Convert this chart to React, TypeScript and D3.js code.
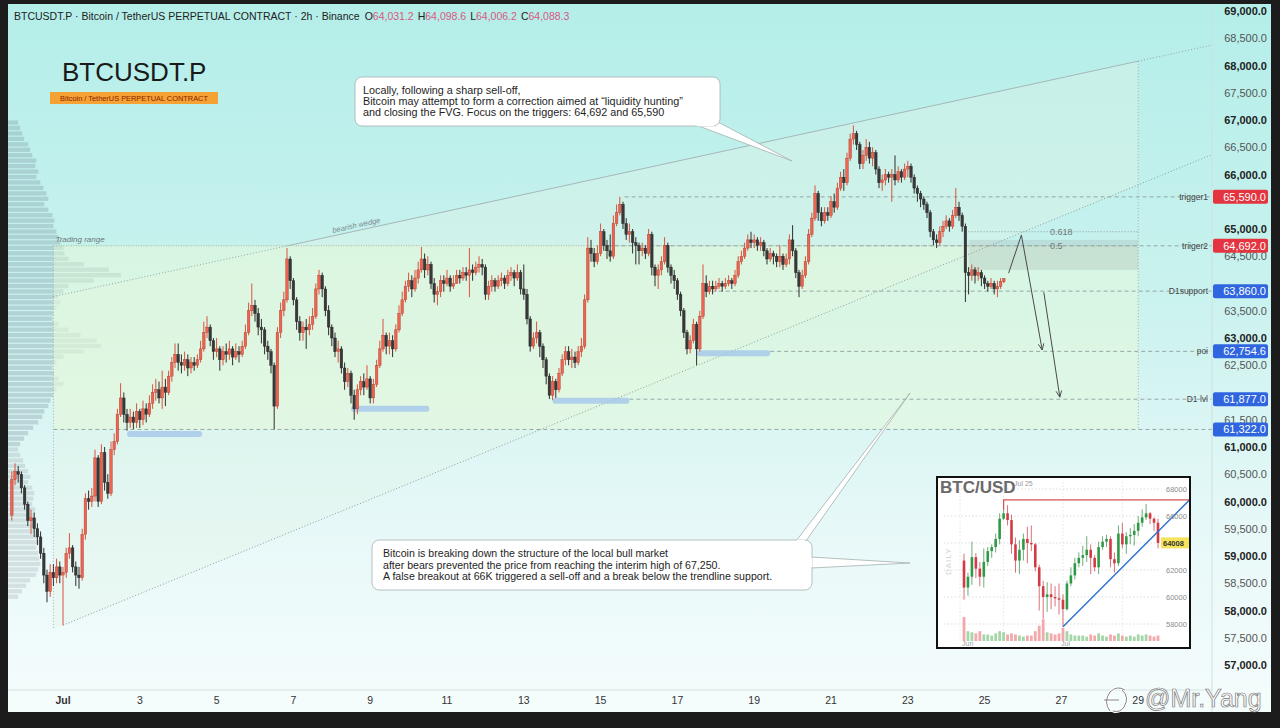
import * as d3 from 'd3'

const at = (day: number, hour = 0) => new Date(2024, 6, day, hour)

// 2h candles, Jun 29 16:00 -> Jul 25 12:00 (open = previous close)
const candleStart = new Date(2024, 5, 29, 16)
const firstOpen = 59750
const closes = [
  60400, 60550, 60500, 60250,
  59950, 59650, 59700, 59500, 59350, 59050, 58650, 58350, 58700, 58600, 58800, 58650,
  58700, 59050, 59150, 58800, 58650, 58600, 59400, 60050, 60000, 60100, 60800, 60000,
  60900, 60350, 60150, 60950, 61100, 61600, 61900, 61600, 61450, 61550, 61450, 61650,
  61500, 61700, 61600, 61800, 62000, 62050, 61900, 62100, 62000, 62300, 62550, 62700,
  62550, 62500, 62600, 62450, 62550, 62500, 62600, 62800, 63100, 63200, 62950, 62750,
  62800, 62600, 62750, 62700, 62800, 62650, 62750, 62700, 62850, 63100, 63500, 63600,
  63450, 63200, 63150, 62850, 62750, 62500, 61750, 63100, 63500, 63700, 64450, 64050,
  63700, 63300, 63100, 63200, 63150, 63250, 63400, 63900, 64150, 63900, 63500, 63200,
  63000, 62750, 62800, 62450, 62200, 62350, 61950, 61700, 62050, 62200, 62100, 62250,
  61900, 62150, 62500, 62800, 63050, 62850, 62950, 62800, 63150, 63450, 63700, 63950,
  64050, 63900, 64100, 64250, 64450, 64250, 64350, 64000, 63800, 63850, 64050, 64000,
  64100, 63950, 64000, 64150, 64100, 64200, 64150, 64250, 64200, 64300, 64350, 64300,
  63800, 63950, 64050, 63950, 64050, 64100, 64000, 64150, 64200, 64100, 64200, 63900,
  63800, 63350, 62850, 63000, 63100, 62850, 62600, 62300, 61950, 62200, 62050, 62350,
  62600, 62750, 62600, 62650, 62550, 62750, 62850, 63700, 64650, 64550, 64400, 64550,
  64950, 64700, 64600, 64500, 65100, 65300, 65450, 65100, 64900, 64950, 64750, 64700,
  64600, 64650, 64550, 64900, 64300, 64150, 64250, 64400, 64700, 64300, 64150, 64050,
  63800, 63500, 63100, 62800, 62950, 63250, 62800, 63400, 64000, 63850, 63950, 63900,
  63950, 64000, 63950, 64000, 64050, 64000, 64150, 64400, 64500, 64650, 64800, 64750,
  64800, 64700, 64750, 64600, 64450, 64550, 64500, 64400, 64500, 64350, 64450, 64800,
  64600, 64200, 63950, 64150, 64400, 64900, 65200, 65650, 65300, 65150, 65300, 65250,
  65500, 65400, 65750, 65950, 65850, 66300, 66650, 66750, 66550, 66200, 66350, 66500,
  66300, 66400, 66100, 65850, 65900, 66000, 65950, 66000, 65900, 66050, 65950, 66100,
  66150, 65950, 65750, 65650, 65550, 65450, 65300, 64950, 64800, 64750, 64950, 65050,
  65150, 65050, 65250, 65400, 65250, 65050, 64200, 64150, 64250, 64150, 64200, 64100,
  64000, 63950, 64000, 63900, 63950, 64031.2, 64088.3,
]
const highs = [
  60550, 60700, 60650, 60550,
  60300, 60000, 59850, 59800, 59600, 59450, 59150, 58750, 58850, 58850, 58950, 58900,
  58800, 59150, 59420, 59200, 58900, 58800, 59500, 60150, 60200, 60250, 60950, 60850,
  61050, 61000, 60500, 61100, 61250, 61700, 62170, 62000, 61700, 61700, 61650, 61800,
  61700, 61850, 61800, 61950, 62150, 62250, 62200, 62400, 62250, 62400, 62650, 62900,
  62900, 62700, 62750, 62700, 62650, 62650, 62700, 62950, 63300, 63400, 63250, 63000,
  63000, 62850, 62850, 62900, 62950, 62850, 62900, 62850, 62950, 63250, 63650, 64000,
  63700, 63550, 63350, 63200, 62950, 62800, 62550, 63200, 63650, 63850, 64650, 64500,
  64100, 63750, 63400, 63300, 63350, 63400, 63550, 64000, 64250, 64200, 63950, 63600,
  63250, 63100, 62950, 62850, 62550, 62450, 62400, 62050, 62150, 62300, 62350, 62500,
  62300, 62250, 62600, 62950, 63350, 63100, 63100, 63050, 63250, 63600, 63850, 64050,
  64200, 64150, 64250, 64400, 64670, 64550, 64500, 64400, 64100, 63950, 64150, 64150,
  64250, 64150, 64150, 64250, 64250, 64300, 64300, 64650, 64350, 64400, 64500, 64450,
  64350, 64050, 64150, 64100, 64150, 64200, 64150, 64250, 64300, 64250, 64350, 64250,
  64350, 63900, 63400, 63100, 63300, 63150, 62900, 62650, 62350, 62300, 62250, 62450,
  62700, 62850, 62850, 62800, 62750, 62850, 63000, 63800, 64850, 64800, 64650, 64700,
  65100, 65000, 64800, 64900, 65250, 65450, 65590, 65500, 65200, 65100, 65000, 64850,
  64750, 64750, 64700, 65000, 64950, 64350, 64350, 64500, 64850, 64750, 64350, 64250,
  64100, 63850, 63550, 63150, 63050, 63350, 63300, 63500, 64350, 64150, 64050, 64050,
  64050, 64100, 64050, 64100, 64150, 64100, 64250, 64500, 64600, 64750, 64900, 64950,
  64900, 64850, 64850, 64800, 64650, 64650, 64600, 64550, 64700, 64550, 64550, 64900,
  65070, 64650, 64250, 64250, 64500, 65000, 65300, 65800, 65700, 65400, 65400, 65400,
  65600, 65650, 65850, 66050, 66100, 66400, 66750, 66900, 66800, 66600, 66450, 66650,
  66600, 66500, 66450, 66150, 66000, 66100, 66050, 66100, 66350, 66150, 66100, 66200,
  66250, 66200, 66000, 65800, 65700, 65600, 65500, 65350, 65000, 64900, 65050, 65150,
  65250, 65200, 65350, 65750, 65500, 65300, 65100, 64300, 64350, 64300, 64300, 64250,
  64150, 64050, 64100, 64050, 64050, 64100, 64098.6,
]
const lows = [
  59650, 60300, 60350, 60150,
  59850, 59550, 59400, 59350, 59200, 58950, 58500, 58150, 58250, 58450, 58500, 58500,
  57730, 58600, 58950, 58700, 58450, 58400, 58550, 59300, 59850, 59900, 60000, 59900,
  59950, 60200, 60050, 60100, 60850, 61050, 61550, 61450, 61300, 61350, 61330, 61350,
  61350, 61400, 61450, 61550, 61700, 61850, 61800, 61700, 61750, 61950, 62200, 62450,
  62400, 62350, 62400, 62300, 62350, 62400, 62450, 62550, 62750, 63000, 62850, 62600,
  62650, 62400, 62500, 62550, 62600, 62500, 62600, 62550, 62650, 62800, 63050, 63400,
  63300, 63050, 62900, 62700, 62600, 62350, 61320, 61700, 63000, 63400, 63650, 63900,
  63600, 63150, 62950, 62950, 62800, 63050, 63150, 63350, 63800, 63750, 63400, 63050,
  62850, 62650, 62550, 62350, 62050, 62100, 61800, 61500, 61600, 61950, 61950, 62050,
  61800, 61800, 62100, 62450, 62750, 62700, 62700, 62650, 62750, 63100, 63400, 63650,
  63850, 63750, 63850, 64000, 64200, 64100, 64150, 63900, 63650, 63600, 63750, 63850,
  63950, 63850, 63900, 64000, 64000, 64050, 64050, 63750, 64050, 64150, 64200, 64150,
  63700, 63700, 63850, 63850, 63900, 63950, 63900, 63950, 64050, 63950, 64050, 63800,
  63700, 63250, 62750, 62800, 62900, 62650, 62450, 62150, 61880, 61860, 61900, 62000,
  62300, 62500, 62500, 62450, 62450, 62500, 62650, 62800, 63650, 64400, 64300, 64350,
  64500, 64600, 64450, 64400, 64450, 65050, 65250, 65000, 64800, 64750, 64550, 64350,
  64350, 64500, 64450, 64500, 64150, 63950, 63900, 64150, 64350, 64200, 64000, 63900,
  63700, 63400, 63000, 62700, 62720, 62900, 62500, 62750, 63350, 63750, 63800, 63800,
  63850, 63900, 63850, 63900, 63950, 63900, 63950, 64100, 64350, 64450, 64600, 64650,
  64650, 64600, 64600, 64500, 64350, 64400, 64350, 64300, 64300, 64250, 64300, 64350,
  64500, 64100, 63750, 63900, 64100, 64350, 64850, 65150, 65150, 65050, 65100, 65150,
  65200, 65300, 65350, 65700, 65700, 65800, 66250, 66550, 66450, 66100, 66100, 66250,
  66200, 66150, 66000, 65750, 65700, 65800, 65850, 65500, 65800, 65850, 65850, 65900,
  65950, 65850, 65650, 65500, 65400, 65350, 65200, 64850, 64700, 64650, 64700, 64850,
  65000, 64950, 65000, 65200, 65150, 64950, 63660, 63800, 64050, 64000, 64050, 63950,
  63900, 63850, 63900, 63800, 63750, 63900, 64006.2,
]

// visible-range volume profile, 100 USD rows from 67,000 down
const profileTop = 67000
const profileStep = 100
const profileVolume = [
  10, 12, 14, 16, 20, 22, 24, 28, 27, 30, 28, 32, 35, 38, 40, 36, 40, 44, 46, 45,
  48, 50, 52, 55, 56, 60, 75, 100, 112, 85, 60, 55, 50, 52, 48, 45, 44, 50, 60, 72,
  88, 92, 75, 55, 48, 44, 46, 50, 55, 48, 45, 42, 40, 36, 34, 30, 25, 20, 16, 12,
  10, 12, 15, 17, 20, 22, 20, 24, 26, 25, 24, 27, 26, 28, 25, 27, 29, 31, 28, 30,
  31, 32, 30, 28, 22, 18, 14, 10,
]

const levelNames = ['trigger1', 'triiger2', 'D1support', 'poi', 'D1 lvl', '']
const levelPrices = [65590, 64692, 63860, 62754.6, 61877, 61322]
const levelStarts = [at(15, 15), at(15, 0), at(17, 17), at(19, 10), at(15, 18), new Date(2024, 5, 30, 18)]
const levelColors = ['#e3343f', '#e3343f', '#2f66e0', '#2f66e0', '#2f66e0', '#2f66e0']

const liqStarts = [at(2, 16), at(8, 12), at(13, 18), at(17, 12)]
const liqEnds = [at(4, 15), at(10, 13), at(15, 18), at(19, 10)]
const liqPrices = [61240, 61700, 61850, 62720]

const rangeStart = new Date(2024, 5, 30, 18)
const rangeEnd = at(29)
const wedgeUpper: [Date, number][] = [[at(6, 20), 64690], [at(29), 68080]]
const wedgeLower: [Date, number][] = [[at(1), 57730], [at(29), 65810]]

const fibStart = at(24, 14)
const fibLevels = [0.618, 0.5]
const fibPrices = [64950, 64692]
const fvgBounds = [64250, 64800]

const arrowA: [Date, number][] = [[at(25, 15), 64190], [at(25, 23), 64890], [at(26, 12), 62780]]
const arrowB: [Date, number][] = [[at(26, 13), 63840], [at(26, 23), 61915]]

const dayTicks = [1, 3, 5, 7, 9, 11, 13, 15, 17, 19, 21, 23, 25, 27, 29]

const topNote = [
  'Locally, following a sharp sell-off,',
  'Bitcoin may attempt to form a correction aimed at “liquidity hunting”',
  'and closing the FVG. Focus on the triggers: 64,692 and 65,590',
]
const bottomNote = [
  'Bitcoin is breaking down the structure of the local bull market',
  'after bears prevented the price from reaching the interim high of 67,250.',
  'A false breakout at 66K triggered a sell-off and a break below the trendline support.',
]

// inset: daily BTC/USD
const miniFirstOpen = 62700
const miniClose = [
  60700, 61500, 62950, 62100, 61500, 62600, 63400, 63700, 64300, 65800,
  66200, 65700, 63900, 62700, 63500, 64300, 64000, 63900, 62200, 60800,
  60000, 60200, 60000, 59900, 59800, 59100, 61000, 61600, 62500, 62900,
  63100, 63500, 62900, 62200, 63700, 64100, 64300, 62800, 62500, 64700,
  63900, 64500, 64600, 64900, 65500, 65900, 66200, 65800, 65500, 64008,
]
const miniHigh = [
  63200, 61800, 64100, 63250, 62600, 63600, 63700, 63900, 64700, 66200,
  67200, 66800, 66100, 64400, 64200, 64700, 65200, 65300, 64000, 62400,
  61200, 61100, 61000, 60800, 61000, 60200, 61200, 62200, 62900, 63300,
  63800, 64500, 63900, 63100, 64100, 64500, 64600, 64500, 63300, 65300,
  65500, 64800, 65100, 65400, 66000, 66500, 66900, 66300, 65900, 65800,
]
const miniLow = [
  59800, 60100, 60900, 61400, 60800, 60700, 62300, 62900, 63300, 63900,
  65700, 65300, 63200, 61800, 61700, 62700, 62500, 63400, 61900, 59000,
  58400, 58900, 59100, 59300, 58700, 57800, 59000, 60800, 61300, 62200,
  62300, 62600, 61700, 61900, 61700, 63500, 63700, 62200, 61800, 62300,
  63600, 63200, 63900, 63800, 64500, 65200, 65700, 65400, 64900, 63600,
]
const miniVolume = [
  22, 9, 8, 7, 9, 6, 6, 5, 7, 9, 8, 6, 7, 6, 5, 4, 5, 5, 9, 14,
  20, 8, 7, 6, 7, 12, 9, 6, 5, 5, 5, 4, 6, 5, 7, 5, 4, 6, 5, 7,
  5, 4, 5, 4, 6, 5, 6, 5, 4, 5,
]
const miniPriceTicks = [68000, 66000, 62000, 60000, 58000]
const miniGridTicks = [68000, 66000, 64000, 62000, 60000, 58000]
const miniResistance = 67200
const miniTrend: [number, number][] = [[25, 57800], [57, 67200]]

const font = "'Liberation Sans', Arial, sans-serif"
const plotLeft = 8
const plotRight = 1212
const plotBottom = 690

const App = () => {
  const x = d3.scaleTime().domain([at(1), at(29)]).range([63, 1138.2])
  const y = d3.scaleLinear().domain([57000, 69000]).range([665, 11])
  const fmt = d3.format(',.1f')

  const candles = closes.map((c, i) => {
    const o = i === 0 ? firstOpen : closes[i - 1]
    return {
      t: d3.timeHour.offset(candleStart, 2 * i),
      o,
      c,
      h: Math.max(highs[i], o, c),
      l: Math.min(lows[i], o, c),
    }
  })
  const last = candles[candles.length - 1]

  const profX = d3.scaleLinear().domain([0, d3.max(profileVolume) ?? 1]).range([0, 113])

  const px = (p: [Date, number]) => [x(p[0]), y(p[1])] as [number, number]
  const lineFn = (pts: [Date, number][]) => {
    const [a, b] = pts.map(px)
    const m = (b[1] - a[1]) / (b[0] - a[0])
    return (xp: number) => a[1] + m * (xp - a[0])
  }
  const upper = lineFn(wedgeUpper)
  const lower = lineFn(wedgeLower)
  const xL = x(rangeStart)
  const xR = x(rangeEnd)
  const [u1, u2] = wedgeUpper.map(px)
  const l1 = px(wedgeLower[0])

  const path = d3.line<[Date, number]>().x((d) => x(d[0])).y((d) => y(d[1]))

  const bw = 2.6

  // price-axis labels mostly hidden behind a level tag are left out
  const axisPrices = d3
    .range(57000, 69001, 500)
    .filter((p) => levelPrices.every((lp) => Math.abs(y(p) - y(lp)) >= 9))

  // inset scales
  const inset = { x: 937, y: 477, w: 253, h: 171 }
  const mx = d3.scaleLinear().domain([0, 49]).range([964, 1158])
  const my = d3.scaleLinear().domain([58000, 68000]).range([624, 489])
  const mv = d3.scaleLinear().domain([0, d3.max(miniVolume) ?? 1]).range([0, 24])
  const mini = miniClose.map((c, i) => {
    const o = i === 0 ? miniFirstOpen : miniClose[i - 1]
    return { o, c, h: Math.max(miniHigh[i], o, c), l: Math.min(miniLow[i], o, c), v: miniVolume[i] }
  })

  const labelX = 1050
  const markPath = 'M1110,711 q-7,-9 0,-19 q7,-7 15,-2 M1104,700 h15 M1122,690 q8,7 2,17 q-4,6 -11,4'

  return (
    <svg
      width={1280}
      height={728}
      style={{ position: 'absolute', left: 0, top: 0 }}
      fontFamily={font}
    >
      <defs>
        <linearGradient id="bg" x1="0" y1="0" x2="0" y2="1">
          <stop offset="0%" stopColor="#b4eee9" />
          <stop offset="40%" stopColor="#c9f2ee" />
          <stop offset="78%" stopColor="#eaf9f9" />
          <stop offset="100%" stopColor="#f5fcfc" />
        </linearGradient>
        <clipPath id="plot">
          <rect x={plotLeft} y={4} width={plotRight - plotLeft} height={plotBottom - 4} />
        </clipPath>
        <clipPath id="insetClip">
          <rect x={inset.x} y={inset.y} width={inset.w} height={inset.h} />
        </clipPath>
        <marker id="arr" viewBox="0 0 10 10" refX="9" refY="5" markerWidth="7" markerHeight="7" orient="auto">
          <path d="M0,1 L9,5 L0,9" fill="none" stroke="#4a4a4a" strokeWidth={1.3} />
        </marker>
      </defs>

      <rect width={1280} height={728} fill="#1c1c1c" />
      <rect x={8} y={4} width={1263} height={708} fill="url(#bg)" />

      <g clipPath="url(#plot)">
        {/* volume profile */}
        {profileVolume.map((v, i) => {
          const top = profileTop - i * profileStep
          const bot = top - profileStep
          const y0 = y(top)
          const h = y(bot) - y0
          return (
            <rect
              key={`vp${i}`}
              x={plotLeft}
              y={y0 + 0.4}
              width={profX(v)}
              height={h - 1.2}
              fill={bot >= 61000 ? 'rgba(130,155,165,0.36)' : 'rgba(160,166,172,0.3)'}
            />
          )
        })}

        {/* wedge fill */}
        <polygon
          points={[
            [xL, upper(xL)],
            [xR, upper(xR)],
            [xR, lower(xR)],
            [xL, lower(xL)],
          ]
            .map((p) => p.join(','))
            .join(' ')}
          fill="rgba(225,244,228,0.35)"
        />
        {/* trading range box */}
        <rect
          x={xL}
          y={y(64692)}
          width={xR - xL}
          height={y(61322) - y(64692)}
          fill="rgba(232,250,212,0.45)"
        />
        <line x1={xL} x2={xR} y1={y(64692)} y2={y(64692)} stroke="#a9b39c" strokeDasharray="1 1.5" />
        <line x1={xL} x2={xL} y1={y(64692)} y2={lower(xL)} stroke="#9fb0ad" strokeDasharray="1 2" />
        <line x1={xR} x2={xR} y1={upper(xR)} y2={y(61322)} stroke="#9fb0ad" strokeDasharray="1 2" />
        <text x={xL + 2} y={y(64692) - 4} fontSize={8} fontStyle="italic" fill="#6a7878">
          Trading range
        </text>

        {/* wedge lines */}
        <line x1={u1[0]} y1={u1[1]} x2={u2[0]} y2={u2[1]} stroke="#a3b0b2" strokeWidth={0.9} />
        <line x1={xL} y1={upper(xL)} x2={u1[0]} y2={u1[1]} stroke="#95a5a5" strokeDasharray="1 2" />
        <line x1={u2[0]} y1={u2[1]} x2={plotRight} y2={upper(plotRight)} stroke="#95a5a5" strokeDasharray="1 2" />
        <line x1={l1[0]} y1={l1[1]} x2={plotRight} y2={lower(plotRight)} stroke="#8d9d9d" strokeDasharray="1 2" />
        <text
          transform={`translate(333,${upper(333) - 3}) rotate(${(Math.atan((u2[1] - u1[1]) / (u2[0] - u1[0])) * 180) / Math.PI})`}
          fontSize={7.5}
          fontStyle="italic"
          fill="#7c8a8c"
        >
          bearish wedge
        </text>

        {/* horizontal levels */}
        {levelPrices.map((p, i) => (
          <line
            key={`lv${i}`}
            x1={x(levelStarts[i])}
            x2={plotRight}
            y1={y(p)}
            y2={y(p)}
            stroke="#8e9e9e"
            strokeWidth={0.9}
            strokeDasharray="4 3"
          />
        ))}
        {levelNames.map((n, i) => (
          <text key={`ln${i}`} x={plotRight - 4} y={y(levelPrices[i]) + 3} fontSize={8.5} fill="#444" textAnchor="end">
            {n}
          </text>
        ))}

        {/* liquidity bars */}
        {liqPrices.map((p, i) => (
          <rect
            key={`lq${i}`}
            x={x(liqStarts[i])}
            y={y(p) - 3}
            width={x(liqEnds[i]) - x(liqStarts[i])}
            height={6}
            rx={3}
            fill="rgba(160,195,235,0.75)"
          />
        ))}

        {/* fib / fvg zone */}
        <rect
          x={x(fibStart)}
          y={y(fvgBounds[1])}
          width={xR - x(fibStart)}
          height={y(fvgBounds[0]) - y(fvgBounds[1])}
          fill="rgba(140,150,150,0.2)"
        />
        <line x1={x(fibStart)} x2={xR} y1={y(fibPrices[0])} y2={y(fibPrices[0])} stroke="#8a9898" strokeDasharray="1 2" />
        {fibLevels.map((f, i) => (
          <text key={`fb${i}`} x={labelX} y={y(fibPrices[i]) + 3} fontSize={9} fill="#6e7a7a">
            {String(f)}
          </text>
        ))}

        {/* candles */}
        {candles.map((d, i) => {
          const up = d.c >= d.o
          const cx = x(d.t)
          const top = y(Math.max(d.o, d.c))
          const h = Math.max(0.9, y(Math.min(d.o, d.c)) - top)
          return (
            <g key={`c${i}`}>
              <line x1={cx} x2={cx} y1={y(d.h)} y2={y(d.l)} stroke={up ? '#d9533f' : '#2f2f2f'} strokeWidth={1} />
              <rect
                x={cx - bw / 2}
                y={top}
                width={bw}
                height={h}
                fill={up ? '#ee6450' : '#383838'}
                stroke={up ? '#a93b2c' : '#222'}
                strokeWidth={0.4}
              />
            </g>
          )
        })}

        {/* projected path */}
        <path d={path(arrowA) ?? ''} fill="none" stroke="#4a4a4a" strokeWidth={1} markerEnd="url(#arr)" />
        <path d={path(arrowB) ?? ''} fill="none" stroke="#4a4a4a" strokeWidth={1} markerEnd="url(#arr)" />
      </g>

      {/* callout: top */}
      <polygon points="696,125 716,121 792,161" fill="#fff" stroke="#a4b0b0" strokeWidth={0.8} />
      <rect x={355} y={77} width={365} height={49} rx={7} fill="#fff" stroke="#a4b0b0" strokeWidth={0.8} />
      <line x1={697} x2={714} y1={125.6} y2={125.6} stroke="#fff" strokeWidth={1.4} />
      {topNote.map((t, i) => (
        <text key={`tn${i}`} x={363} y={94 + i * 11.2} fontSize={10.8} fill="#1e1e1e">
          {t}
        </text>
      ))}

      {/* callout: bottom */}
      <polygon points="796,541 806,541 910,393" fill="#fff" stroke="#a4b0b0" strokeWidth={0.8} />
      <polygon points="811,557 811,568 910,563" fill="#fff" stroke="#a4b0b0" strokeWidth={0.8} />
      <rect x={372} y={540} width={440} height={50} rx={7} fill="#fff" stroke="#a4b0b0" strokeWidth={0.8} />
      <line x1={797} x2={805} y1={540.4} y2={540.4} stroke="#fff" strokeWidth={1.4} />
      <line x1={811.6} x2={811.6} y1={558} y2={567} stroke="#fff" strokeWidth={1.4} />
      {bottomNote.map((t, i) => (
        <text key={`bn${i}`} x={383} y={557 + i * 11.6} fontSize={10.6} fill="#1e1e1e">
          {t}
        </text>
      ))}

      {/* inset daily chart */}
      <g>
        <rect x={inset.x} y={inset.y} width={inset.w} height={inset.h} fill="#fff" />
        <g clipPath="url(#insetClip)">
          {miniGridTicks.map((p) => (
            <line key={`mg${p}`} x1={944} x2={1160} y1={my(p)} y2={my(p)} stroke="#cfcfcf" strokeDasharray="1.5 2" strokeWidth={0.7} />
          ))}
          {[-1, 10, 25, 40].map((i) => (
            <line key={`mgv${i}`} x1={mx(i)} x2={mx(i)} y1={482} y2={642} stroke="#dadada" strokeDasharray="1.5 2" strokeWidth={0.7} />
          ))}
          {mini.map((d, i) => {
            const up = d.c >= d.o
            return (
              <rect
                key={`mvb${i}`}
                x={mx(i) - 1.4}
                y={641 - mv(d.v)}
                width={2.8}
                height={mv(d.v)}
                fill={up ? '#a5d6a7' : '#f3a9ac'}
              />
            )
          })}
          {mini.map((d, i) => {
            const up = d.c >= d.o
            const top = my(Math.max(d.o, d.c))
            const h = Math.max(0.8, my(Math.min(d.o, d.c)) - top)
            return (
              <g key={`mc${i}`}>
                <line x1={mx(i)} x2={mx(i)} y1={my(d.h)} y2={my(d.l)} stroke={up ? '#2e8b3e' : '#c9343f'} strokeWidth={0.7} />
                <rect x={mx(i) - 1.3} y={top} width={2.6} height={h} fill={up ? '#2f9a46' : '#d23a45'} />
              </g>
            )
          })}
          <path
            d={`M${mx(10)},${my(miniResistance) + 10}V${my(miniResistance)}H${inset.x + inset.w}`}
            fill="none"
            stroke="#d9534f"
            strokeWidth={1.2}
          />
          <line
            x1={mx(miniTrend[0][0])}
            y1={my(miniTrend[0][1])}
            x2={mx(miniTrend[1][0])}
            y2={my(miniTrend[1][1])}
            stroke="#2a6fd0"
            strokeWidth={1.4}
          />
          {miniPriceTicks.map((p) => (
            <text key={`mt${p}`} x={1166} y={my(p) + 2.5} fontSize={7.5} fill="#8c8c8c">
              {p}
            </text>
          ))}
          <rect x={1161} y={my(64008) - 5.5} width={30} height={11} fill="#f6e35c" />
          <text x={1163} y={my(64008) + 3} fontSize={7.5} fontWeight="bold" fill="#333">
            64008
          </text>
          <text x={940} y={493} fontSize={17} fontWeight="bold" fill="#6a6a6a">
            BTC/USD
          </text>
          <text x={1014} y={486} fontSize={7} fill="#9a9a9a">
            Jul 25
          </text>
          <text transform="translate(951,575) rotate(-90)" fontSize={8} fill="#d0d0d0" letterSpacing={1}>
            DAILY
          </text>
          <text x={962} y={646} fontSize={7} fill="#a0a0a0">
            Jun
          </text>
          <text x={1061} y={646} fontSize={7} fill="#a0a0a0">
            Jul
          </text>
        </g>
        <rect x={inset.x} y={inset.y} width={inset.w} height={inset.h} fill="none" stroke="#111" strokeWidth={2} />
      </g>

      {/* axes */}
      <line x1={plotLeft} x2={plotRight} y1={plotBottom} y2={plotBottom} stroke="#d3e3e3" />
      <line x1={plotRight} x2={plotRight} y1={4} y2={712} stroke="#cde0e0" />
      {dayTicks.map((d) => (
        <text
          key={`dt${d}`}
          x={x(at(d))}
          y={704}
          fontSize={10.5}
          fontWeight={d === 1 ? 'bold' : 'normal'}
          fill="#333"
          textAnchor="middle"
        >
          {d === 1 ? 'Jul' : d}
        </text>
      ))}
      {axisPrices.map((p) => (
        <text
          key={`pt${p}`}
          x={1267}
          y={y(p) + 4}
          fontSize={11}
          fontWeight={p % 1000 === 0 ? 'bold' : 'normal'}
          fill={p % 1000 === 0 ? '#222' : '#555'}
          textAnchor="end"
        >
          {fmt(p)}
        </text>
      ))}
      {levelPrices.map((p, i) => (
        <g key={`tag${i}`}>
          <rect x={1213} y={y(p) - 7} width={55} height={14} rx={2} fill={levelColors[i]} />
          <text x={1266} y={y(p) + 4} fontSize={11} fill="#fff" textAnchor="end">
            {fmt(p)}
          </text>
        </g>
      ))}

      {/* header */}
      <text x={14} y={20} fontSize={10.5} fill="#222">
        BTCUSDT.P · Bitcoin / TetherUS PERPETUAL CONTRACT · 2h · Binance
        <tspan dx={5}>O</tspan>
        <tspan fill="#d9587e">{fmt(last.o)}</tspan>
        <tspan dx={4}>H</tspan>
        <tspan fill="#d9587e">{fmt(last.h)}</tspan>
        <tspan dx={4}>L</tspan>
        <tspan fill="#d9587e">{fmt(last.l)}</tspan>
        <tspan dx={4}>C</tspan>
        <tspan fill="#d9587e">{fmt(last.c)}</tspan>
      </text>
      <text x={62} y={81} fontSize={26} fill="#1a1a1a">
        BTCUSDT.P
      </text>
      <rect x={50} y={92} width={168} height={12} fill="#f4a233" />
      <text x={134} y={100.8} fontSize={7.4} fill="#8a1c00" textAnchor="middle">
        Bitcoin / TetherUS PERPETUAL CONTRACT
      </text>

      {/* watermark */}
      <path d={markPath} fill="none" stroke="#fff" strokeWidth={3} />
      <path d={markPath} fill="none" stroke="#777" strokeWidth={0.9} />
      <text x={1145} y={707} fontSize={25} fill="#fff" stroke="#777" strokeWidth={0.7}>
        @Mr.Yang
      </text>
    </svg>
  )
}

export default App
